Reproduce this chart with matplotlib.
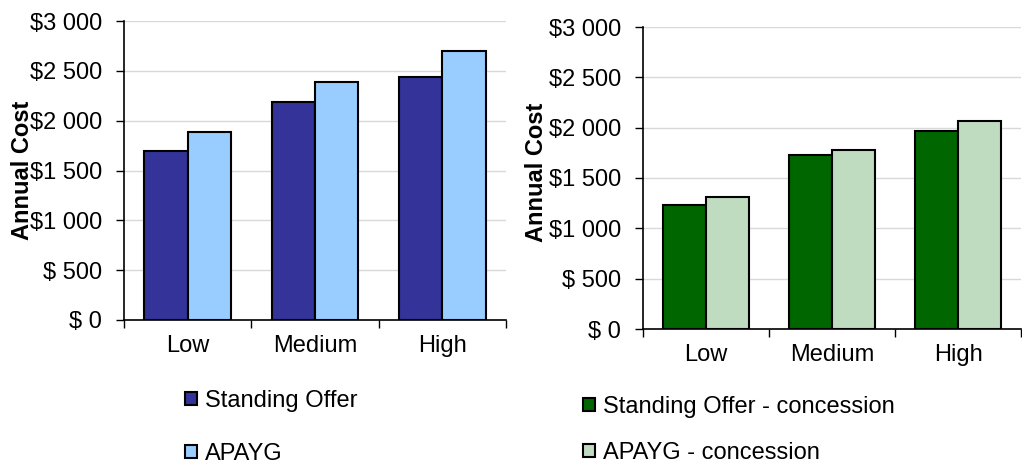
import numpy as np
import matplotlib
matplotlib.use('Agg')
import matplotlib.pyplot as plt

plt.rcParams['font.family'] = ['Liberation Sans', 'DejaVu Sans']

categories = ['Low', 'Medium', 'High']
standing = [1700, 2190, 2435]
apayg = [1890, 2390, 2695]
standing_conc = [1230, 1730, 1970]
apayg_conc = [1310, 1775, 2065]
yticks = [0, 500, 1000, 1500, 2000, 2500, 3000]
ytick_labels = ['$ 0', '$ 500', '$1 000', '$1 500', '$2 000', '$2 500', '$3 000']

fig = plt.figure(figsize=(10.22, 4.63), dpi=100)
ax1 = fig.add_axes([124 / 1022, 1 - 320 / 463, 382 / 1022, 299 / 463])
ax2 = fig.add_axes([643 / 1022, 1 - 329 / 463, 378 / 1022, 302 / 463])

FS = 17


def draw(ax, s1, s2, c1, c2, n1, n2, ylab_x, ylab_y):
    x = np.arange(len(categories))
    w = 0.34
    ax.bar(x - w / 2, s1, w, color=c1, edgecolor='black', linewidth=1.5, label=n1, zorder=3)
    ax.bar(x + w / 2, s2, w, color=c2, edgecolor='black', linewidth=1.5, label=n2, zorder=3)
    ax.set_xlim(-0.5, len(categories) - 0.5)
    ax.set_ylim(0, 3000)
    ax.set_yticks(yticks)
    ax.set_yticklabels(ytick_labels, fontsize=FS)
    ax.set_xticks(np.arange(len(categories) + 1) - 0.5)
    ax.set_xticklabels([])
    ax.set_xticks(x, minor=True)
    ax.set_xticklabels(categories, minor=True, fontsize=FS)
    ax.tick_params(axis='x', which='minor', length=0, pad=11)
    ax.tick_params(axis='x', which='major', length=6, width=1)
    ax.tick_params(axis='y', length=6, width=1, pad=10)
    ax.grid(axis='y', color='#d9d9d9', linewidth=1, zorder=0)
    for s in ['top', 'right']:
        ax.spines[s].set_visible(False)
    for s in ['left', 'bottom']:
        ax.spines[s].set_linewidth(1.2)
    # label overlaps the tick labels, as in the original
    ax.set_ylabel('Annual Cost', fontsize=FS, fontweight='bold')
    ax.yaxis.set_label_coords(ylab_x, ylab_y)


draw(ax1, standing, apayg, '#333399', '#99CCFF', 'Standing Offer', 'APAYG', -0.235, 0.5)
draw(ax2, standing_conc, apayg_conc, '#006600', '#C0DCC0',
     'Standing Offer - concession', 'APAYG - concession', -0.252, 0.52)

leg_kw = dict(frameon=False, fontsize=FS, handlelength=0.5, handleheight=0.5,
              handletextpad=0.35, borderaxespad=0, borderpad=0)
ax1.legend(loc='upper left', bbox_to_anchor=(185 / 1022, 1 - 390 / 463),
           bbox_transform=fig.transFigure, labelspacing=1.3, **leg_kw)
ax2.legend(loc='upper left', bbox_to_anchor=(583 / 1022, 1 - 396 / 463),
           bbox_transform=fig.transFigure, labelspacing=1.0, **leg_kw)

fig.savefig('out.png', dpi=100)
